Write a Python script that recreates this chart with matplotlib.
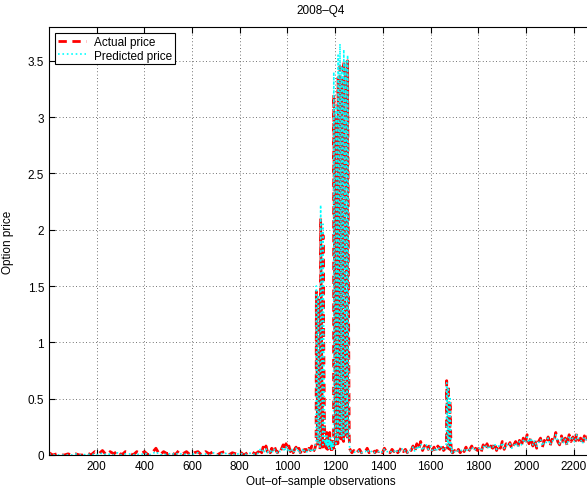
import numpy as np
import matplotlib
matplotlib.use("Agg")
import matplotlib.pyplot as plt

# each segment: (first observation, step between observations)
# values read off the picture by eye

# obs 1-880, flat and close to zero
low1_start, low1_step = 1, 16
low1_actual = [0.02, 0.0, 0.01, 0.0, 0.0, 0.01, 0.0, 0.01, 0.0, 0.0,
               0.02, 0.0, 0.03, 0.01, 0.04, 0.0, 0.03, 0.01, 0.04, 0.0,
               0.03, 0.02, 0.0, 0.03, 0.01, 0.03, 0.0, 0.02, 0.06, 0.0,
               0.03, 0.01, 0.03, 0.0, 0.04, 0.01, 0.03, 0.0, 0.02, 0.03,
               0.0, 0.03, 0.01, 0.03, 0.0, 0.02, 0.03, 0.0, 0.02, 0.01,
               0.03, 0.0, 0.02, 0.03, 0.01]
low1_pred = [0.01, 0.0, 0.0, 0.0, 0.0, 0.0, 0.0, 0.01, 0.0, 0.0,
             0.01, 0.0, 0.01, 0.0, 0.02, 0.0, 0.01, 0.0, 0.02, 0.0,
             0.01, 0.01, 0.0, 0.01, 0.0, 0.02, 0.0, 0.01, 0.03, 0.0,
             0.01, 0.0, 0.02, 0.0, 0.02, 0.0, 0.01, 0.0, 0.01, 0.02,
             0.0, 0.01, 0.0, 0.02, 0.0, 0.01, 0.02, 0.0, 0.01, 0.0,
             0.02, 0.0, 0.01, 0.02, 0.0]

# obs 880-1120, slightly raised
low2_start, low2_step = 880, 6
low2_actual = [0.03, 0.06, 0.02, 0.07, 0.04, 0.08, 0.03, 0.05, 0.02, 0.06,
               0.03, 0.07, 0.04, 0.02, 0.05, 0.03, 0.06, 0.09, 0.04, 0.10,
               0.05, 0.08, 0.03, 0.06, 0.02, 0.05, 0.07, 0.03, 0.06, 0.02,
               0.04, 0.07, 0.03, 0.05, 0.02, 0.06, 0.04, 0.08, 0.03, 0.05]
low2_pred = [0.02, 0.05, 0.03, 0.05, 0.03, 0.06, 0.02, 0.04, 0.03, 0.05,
             0.02, 0.05, 0.03, 0.02, 0.04, 0.03, 0.05, 0.07, 0.03, 0.08,
             0.04, 0.06, 0.03, 0.05, 0.02, 0.04, 0.06, 0.03, 0.05, 0.02,
             0.03, 0.06, 0.03, 0.04, 0.02, 0.05, 0.03, 0.06, 0.03, 0.04]

# obs 1120-1193, first spike
spike1_start, spike1_step = 1120, 1
spike1_actual = [0.1, 1.45, 1.2, 0.95, 0.72, 0.5, 0.32, 0.18, 0.08, 1.38,
                 1.1, 0.85, 0.6, 0.4, 0.22, 0.1, 0.05, 0.08, 0.12, 2.1,
                 1.8, 1.5, 1.2, 0.95, 0.7, 0.48, 0.3, 0.15, 0.07, 1.95,
                 1.6, 1.3, 1.0, 0.75, 0.52, 0.33, 0.18, 0.08, 0.1, 0.14,
                 0.08, 0.12, 0.06, 0.15, 0.1, 0.2, 0.08, 0.12, 0.05, 0.1,
                 0.16, 0.07, 0.12, 0.04, 0.1, 0.15, 0.08, 0.2, 0.1, 0.06,
                 0.12, 0.08, 0.14, 0.05, 0.1, 0.12, 0.03, 0.08, 0.1, 0.12,
                 0.05, 0.09, 0.13, 0.06]
spike1_pred = [0.12, 1.5, 1.28, 1.0, 0.78, 0.55, 0.35, 0.2, 0.1, 1.42,
               1.15, 0.9, 0.66, 0.44, 0.26, 0.12, 0.07, 0.1, 0.14, 2.22,
               1.9, 1.6, 1.28, 1.0, 0.76, 0.52, 0.33, 0.18, 0.09, 2.05,
               1.7, 1.38, 1.06, 0.8, 0.56, 0.36, 0.2, 0.1, 0.12, 0.12,
               0.1, 0.1, 0.08, 0.13, 0.12, 0.17, 0.1, 0.1, 0.07, 0.12,
               0.14, 0.09, 0.1, 0.06, 0.12, 0.13, 0.1, 0.17, 0.12, 0.08,
               0.1, 0.1, 0.12, 0.07, 0.12, 0.1, 0.05, 0.1, 0.08, 0.1,
               0.07, 0.1, 0.11, 0.08]

# obs 1194-1260, the big block
spike2_start, spike2_step = 1194, 1
spike2_actual = [3.2, 2.65, 2.1, 1.6, 1.1, 0.68, 0.35, 0.12, 0.1, 0.08,
                 3.0, 2.5, 1.95, 1.45, 1.0, 0.6, 0.3, 0.1,
                 3.35, 2.8, 2.2, 1.7, 1.2, 0.75, 0.4, 0.15,
                 3.45, 2.9, 2.3, 1.75, 1.25, 0.8, 0.42, 0.14,
                 3.3, 2.75, 2.15, 1.65, 1.15, 0.72, 0.38, 0.12,
                 3.5, 2.95, 2.35, 1.8, 1.3, 0.82, 0.45, 0.16,
                 3.4, 2.85, 2.25, 1.7, 1.2, 0.76, 0.4, 0.13,
                 3.5, 2.9, 2.3, 1.78, 1.28, 0.8, 0.44, 0.15, 0.06]
spike2_pred = [3.4, 2.8, 2.2, 1.68, 1.16, 0.72, 0.38, 0.14, 0.12, 0.1,
               3.1, 2.6, 2.02, 1.5, 1.05, 0.64, 0.33, 0.12,
               3.55, 2.95, 2.3, 1.78, 1.26, 0.8, 0.43, 0.17,
               3.65, 3.05, 2.42, 1.84, 1.3, 0.85, 0.45, 0.16,
               3.45, 2.88, 2.25, 1.72, 1.2, 0.76, 0.4, 0.14,
               3.6, 3.05, 2.45, 1.88, 1.36, 0.86, 0.48, 0.18,
               3.5, 2.95, 2.33, 1.76, 1.25, 0.8, 0.42, 0.15,
               3.55, 2.98, 2.38, 1.84, 1.32, 0.84, 0.46, 0.17, 0.08]

# obs 1262-1662, low again
low3_start, low3_step = 1262, 8
low3_actual = [0.05, 0.02, 0.04, 0.01, 0.03, 0.05, 0.02, 0.04, 0.03, 0.06,
               0.02, 0.04, 0.05, 0.02, 0.04, 0.03, 0.05, 0.02, 0.06, 0.03,
               0.04, 0.02, 0.05, 0.03, 0.06, 0.02, 0.04, 0.07, 0.03, 0.05,
               0.02, 0.06, 0.04, 0.08, 0.03, 0.1, 0.05, 0.12, 0.04, 0.08,
               0.11, 0.05, 0.09, 0.04, 0.07, 0.03, 0.08, 0.05, 0.1, 0.04,
               0.06]
low3_pred = [0.04, 0.03, 0.03, 0.02, 0.03, 0.04, 0.02, 0.03, 0.03, 0.05,
             0.02, 0.03, 0.04, 0.02, 0.03, 0.03, 0.04, 0.02, 0.05, 0.03,
             0.03, 0.02, 0.04, 0.03, 0.05, 0.02, 0.03, 0.06, 0.03, 0.04,
             0.02, 0.05, 0.04, 0.07, 0.03, 0.08, 0.05, 0.1, 0.04, 0.07,
             0.09, 0.05, 0.08, 0.04, 0.06, 0.03, 0.07, 0.05, 0.08, 0.04,
             0.05]

# obs 1666-1690, small spike
spike3_start, spike3_step = 1666, 1
spike3_actual = [0.1, 0.66, 0.52, 0.4, 0.3, 0.2, 0.12, 0.06, 0.62, 0.48,
                 0.36, 0.26, 0.17, 0.1, 0.05, 0.48, 0.37, 0.27, 0.18, 0.1,
                 0.05, 0.02, 0.0, 0.04, 0.02]
spike3_pred = [0.12, 0.64, 0.55, 0.42, 0.32, 0.22, 0.14, 0.08, 0.6, 0.5,
               0.38, 0.28, 0.19, 0.12, 0.07, 0.5, 0.39, 0.29, 0.2, 0.12,
               0.07, 0.04, 0.02, 0.05, 0.03]

# obs 1692-2276, slowly rising tail
tail_start, tail_step = 1692, 8
tail_actual = [0.02, 0.04, 0.01, 0.05, 0.02, 0.06, 0.03, 0.07, 0.02, 0.05,
               0.08, 0.03, 0.06, 0.04,
               0.07, 0.03, 0.09, 0.05, 0.1, 0.04, 0.08, 0.06, 0.11, 0.04,
               0.09, 0.06, 0.12, 0.05, 0.1, 0.07, 0.11, 0.05, 0.09, 0.12,
               0.06, 0.13, 0.08, 0.15, 0.1,
               0.18, 0.1, 0.16, 0.08, 0.14, 0.06, 0.12, 0.15, 0.07, 0.13,
               0.1, 0.16, 0.08, 0.14, 0.11, 0.2, 0.12, 0.09, 0.17, 0.1,
               0.15, 0.08, 0.18, 0.12, 0.16, 0.1, 0.19, 0.13, 0.15, 0.09,
               0.17, 0.12, 0.18, 0.11]
tail_pred = [0.03, 0.03, 0.02, 0.04, 0.03, 0.05, 0.04, 0.06, 0.03, 0.05,
             0.07, 0.04, 0.05, 0.05,
             0.06, 0.04, 0.08, 0.06, 0.09, 0.05, 0.08, 0.07, 0.1, 0.05,
             0.08, 0.07, 0.11, 0.06, 0.09, 0.08, 0.1, 0.06, 0.08, 0.11,
             0.07, 0.12, 0.09, 0.13, 0.11,
             0.16, 0.11, 0.15, 0.09, 0.13, 0.07, 0.11, 0.14, 0.08, 0.12,
             0.11, 0.15, 0.09, 0.13, 0.12, 0.18, 0.13, 0.1, 0.16, 0.11,
             0.14, 0.09, 0.17, 0.13, 0.15, 0.11, 0.18, 0.14, 0.14, 0.1,
             0.16, 0.13, 0.17, 0.12]

segments = [
    (low1_start, low1_step, low1_actual, low1_pred),
    (low2_start, low2_step, low2_actual, low2_pred),
    (spike1_start, spike1_step, spike1_actual, spike1_pred),
    (spike2_start, spike2_step, spike2_actual, spike2_pred),
    (low3_start, low3_step, low3_actual, low3_pred),
    (spike3_start, spike3_step, spike3_actual, spike3_pred),
    (tail_start, tail_step, tail_actual, tail_pred),
]

obs, actual, predicted = [], [], []
for start, step, act, pred in segments:
    obs.extend(start + step * np.arange(len(act)))
    actual.extend(act)
    predicted.extend(pred)

plt.rcParams["font.family"] = ["Liberation Sans", "DejaVu Sans"]
plt.rcParams["font.size"] = 8

fig = plt.figure(figsize=(5.87, 4.89), dpi=100)
# axes run past the right edge, like the cropped original
ax = fig.add_axes([49 / 587, 33 / 489, 544 / 587, 428 / 489])

ax.plot(obs, actual, color="red", linestyle="--", linewidth=2,
        dashes=(3, 2), label="Actual price")
ax.plot(obs, predicted, color="cyan", linestyle=":", linewidth=1.2,
        label="Predicted price")

ax.set_xlim(1, 2280)
ax.set_ylim(0, 3.8)
ax.set_xticks(np.arange(200, 2201, 200))
ax.set_yticks(np.arange(0, 3.51, 0.5))
ax.set_yticklabels(["0", "0.5", "1", "1.5", "2", "2.5", "3", "3.5"])
ax.tick_params(direction="in", top=True, right=True, length=4, width=0.8,
               labelsize=8.5, colors="black")
ax.grid(True, linestyle=(0, (1, 3)), color="#444444", linewidth=0.6)
for sp in ax.spines.values():
    sp.set_linewidth(0.8)

ax.set_title("2008–Q4", fontsize=8.5, pad=10)
ax.set_xlabel("Out–of–sample observations", fontsize=8.5, labelpad=2)
ax.set_ylabel("Option price", fontsize=8.5, labelpad=10)

leg = ax.legend(loc="upper left", fontsize=8.5, fancybox=False, framealpha=1,
                edgecolor="black", borderpad=0.2, labelspacing=0.15,
                handlelength=2.4, handletextpad=0.7, borderaxespad=0.55)
leg.get_frame().set_linewidth(0.8)

fig.savefig("out.png", dpi=100)
